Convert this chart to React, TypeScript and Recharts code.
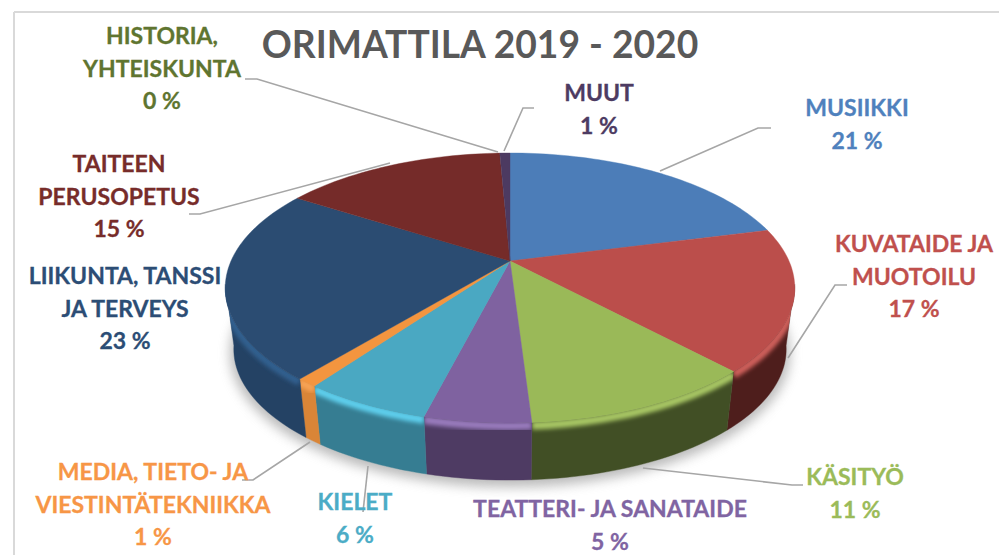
// App.tsx - ORIMATTILA 2019 - 2020, tilted 3D pie
import { PieChart, Pie } from 'recharts';

const categories = [
  'MUSIIKKI',
  'KUVATAIDE JA MUOTOILU',
  'KÄSITYÖ',
  'TEATTERI- JA SANATAIDE',
  'KIELET',
  'MEDIA, TIETO- JA VIESTINTÄTEKNIIKKA',
  'LIIKUNTA, TANSSI JA TERVEYS',
  'TAITEEN PERUSOPETUS',
  'HISTORIA, YHTEISKUNTA',
  'MUUT',
];
const shares = [21, 17, 11, 5, 6, 1, 23, 15.3, 0, 0.7];

const labelLines = [
  ['MUSIIKKI'],
  ['KUVATAIDE JA', 'MUOTOILU'],
  ['KÄSITYÖ'],
  ['TEATTERI- JA SANATAIDE'],
  ['KIELET'],
  ['MEDIA, TIETO- JA', 'VIESTINTÄTEKNIIKKA'],
  ['LIIKUNTA, TANSSI', 'JA TERVEYS'],
  ['TAITEEN', 'PERUSOPETUS'],
  ['HISTORIA,', 'YHTEISKUNTA'],
  ['MUUT'],
];

const topColors = ['#4c7db8', '#bb4e4b', '#9ab958', '#7f62a0', '#4aa8c2', '#f3953f', '#2b4c72', '#752b29', '#5d742f', '#4c3a61'];
const wallColors = ['#2f4f76', '#4e1e1c', '#414f25', '#4e3b63', '#367d92', '#d98537', '#244264', '#4e1e1c', '#414f25', '#33273f'];
const rimColors = ['#6a9ad6', '#d0605c', '#a9c865', '#9a7cbe', '#5fd0ee', '#f7a355', '#33608f', '#8a3532', '#6d8838', '#5a4672'];
const textColors = ['#4f81bd', '#c0504d', '#9bbb59', '#8064a2', '#4bacc6', '#f79646', '#2c4d75', '#772c2a', '#5f7530', '#4d3b62'];

const pieData = categories.map((name, i) => ({ name, value: shares[i] }));

// label placement: centre x, first baseline, then the leader line
const labelLayout = [
  { x: 857, y: 116, leader: [[771, 128], [758, 128], [660, 171]] },
  { x: 914, y: 252, leader: [[847, 285], [835, 285], [788, 358]] },
  { x: 855, y: 485, leader: [[803, 485], [792, 485], [643, 468]] },
  { x: 610, y: 517, leader: [] },
  { x: 355, y: 510, leader: [[368, 466], [363, 512]] },
  { x: 153, y: 480, leader: [[242, 480], [253, 480], [310, 442]] },
  { x: 125, y: 284, leader: [] },
  { x: 119, y: 172, leader: [[189, 214], [200, 214], [390, 163]] },
  { x: 162, y: 44, leader: [[245, 79], [257, 79], [498, 152]] },
  { x: 599, y: 101, leader: [[534, 108], [523, 108], [504, 151]] },
];

const FONT = 'Lato, Carlito, "Open Sans", sans-serif';
const LINE_HEIGHT = 32.5;

// perspective of the disc: back is squeezed, front stretched
const TILT = 0.4645;
const PERSP = -0.2;
const WALL_SCALE = 0.97;
const WALL_DROP = 62;
const FRONT_FROM = 100;
const FRONT_TO = 260;

// clockwise degrees from the top of the disc, to screen offset from the centre
const project = (deg: number, r: number) => {
  const rad = (deg * Math.PI) / 180;
  const u = Math.sin(rad);
  const v = -Math.cos(rad);
  const w = 1 + PERSP * v;
  return { x: (r * u) / w, y: (r * TILT * v) / w };
};

const arcPoints = (from: number, to: number, r: number, cx: number, cy: number, scale = 1, drop = 0) => {
  const pts: string[] = [];
  const steps = Math.max(2, Math.ceil(Math.abs(to - from) / 1.5));
  for (let i = 0; i <= steps; i++) {
    const p = project(from + ((to - from) * i) / steps, r);
    pts.push(`${(cx + p.x * scale).toFixed(2)} ${(cy + p.y * scale + drop).toFixed(2)}`);
  }
  return pts;
};

const TopSlice = (props: any) => {
  const { cx, cy, outerRadius, startAngle, endAngle, name } = props;
  const i = categories.indexOf(name);
  if (startAngle === endAngle) return <g />;
  const pts = arcPoints(90 - startAngle, 90 - endAngle, outerRadius, cx, cy);
  return <path d={`M${cx} ${cy}L${pts.join('L')}Z`} fill={topColors[i]} stroke={topColors[i]} strokeWidth={0.4} />;
};

const WallSlice = (props: any) => {
  const { cx, cy, outerRadius, startAngle, endAngle, name } = props;
  const i = categories.indexOf(name);
  const from = Math.max(90 - startAngle, FRONT_FROM);
  const to = Math.min(90 - endAngle, FRONT_TO);
  if (to <= from) return <g />;
  const upper = arcPoints(from, to, outerRadius, cx, cy);
  const lower = arcPoints(to, from, outerRadius, cx, cy, WALL_SCALE, WALL_DROP);
  const rim = arcPoints(from, to, outerRadius, cx, cy, 1, 3);
  return (
    <g>
      <clipPath id={`wall-${i}`}>
        <path d={`M${upper.join('L')}L${lower.join('L')}Z`} />
      </clipPath>
      <path d={`M${upper.join('L')}L${lower.join('L')}Z`} fill={wallColors[i]} stroke={wallColors[i]} strokeWidth={0.4} />
      <g clipPath={`url(#wall-${i})`}>
        <path d={`M${rim.join('L')}`} fill="none" stroke={rimColors[i]} strokeWidth={8} filter="url(#rimBlur)" />
      </g>
    </g>
  );
};

const SliceLabel = (props: any) => {
  const { index, percent } = props;
  const spot = labelLayout[index];
  const lines = [...labelLines[index], `${Math.round(percent * 100)} %`];
  return (
    <g>
      {spot.leader.length > 0 && (
        <polyline
          points={spot.leader.map((p) => p.join(',')).join(' ')}
          fill="none"
          stroke="#a6a6a6"
          strokeWidth={1.6}
        />
      )}
      <text
        textAnchor="middle"
        fontFamily={FONT}
        fontWeight={700}
        fontSize={23}
        fill={textColors[index]}
        stroke={textColors[index]}
        strokeWidth={0.3}
      >
        {lines.map((line, k) => (
          <tspan key={k} x={spot.x} y={spot.y + k * LINE_HEIGHT}>
            {line}
          </tspan>
        ))}
      </text>
    </g>
  );
};

export default function App() {
  return (
    <div style={{ position: 'absolute', left: 0, top: 0, width: 999, height: 555, background: '#fff' }}>
      <PieChart width={999} height={555} margin={{ top: 0, right: 0, bottom: 0, left: 0 }}>
        <defs>
          <filter id="rimBlur" x="-10%" y="-50%" width="120%" height="200%">
            <feGaussianBlur stdDeviation="2" />
          </filter>
          <filter id="dropShadow" x="-10%" y="-20%" width="120%" height="140%">
            <feGaussianBlur stdDeviation="6" />
          </filter>
        </defs>
        <line x1={14} y1={12} x2={999} y2={12} stroke="#d9d9d9" strokeWidth={2} />
        <line x1={14} y1={12} x2={14} y2={555} stroke="#d9d9d9" strokeWidth={2} />
        <ellipse cx={510} cy={353} rx={280} ry={134} fill="#8c8c8c" opacity={0.6} filter="url(#dropShadow)" />
        <Pie
          data={pieData}
          dataKey="value"
          nameKey="name"
          cx={510}
          cy={261}
          outerRadius={279}
          startAngle={90}
          endAngle={-270}
          stroke="none"
          shape={WallSlice}
          isAnimationActive={false}
        />
        <Pie
          data={pieData}
          dataKey="value"
          nameKey="name"
          cx={510}
          cy={261}
          outerRadius={279}
          startAngle={90}
          endAngle={-270}
          stroke="none"
          shape={TopSlice}
          label={SliceLabel}
          labelLine={false}
          isAnimationActive={false}
        />
        <text x={480} y={58} textAnchor="middle" fontFamily={FONT} fontWeight={700} fontSize={37.2} fill="#595959">
          ORIMATTILA 2019 - 2020
        </text>
      </PieChart>
    </div>
  );
}
